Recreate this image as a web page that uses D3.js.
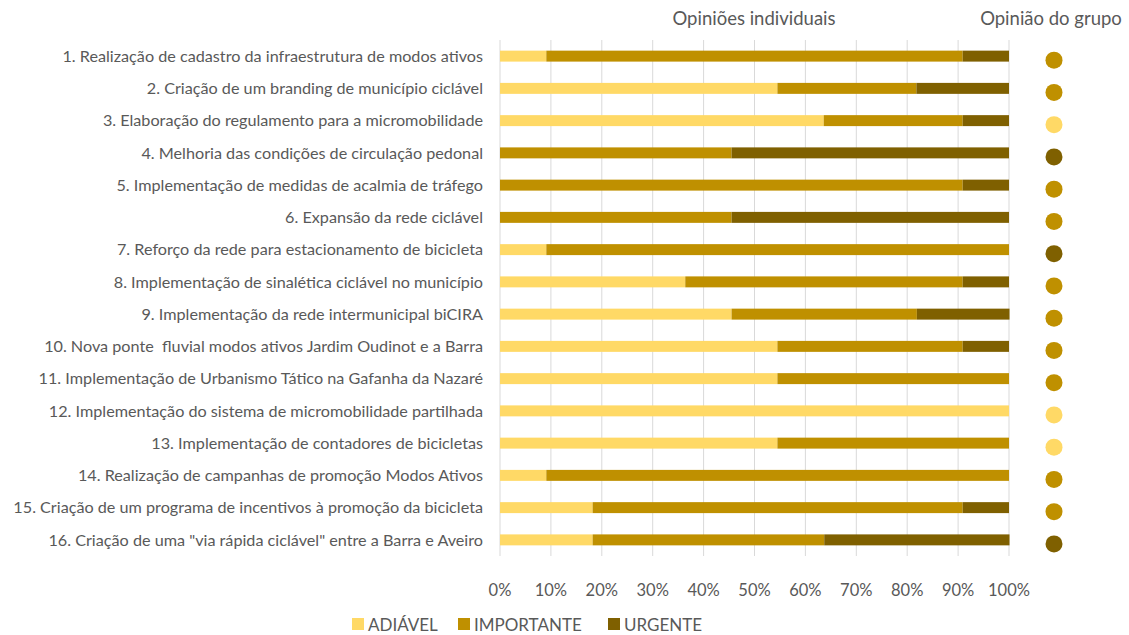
<!DOCTYPE html>
<html>
<head>
<meta charset="utf-8">
<script src="https://cdn.jsdelivr.net/npm/d3@7"></script>
<style>
  body { margin: 0; background: #fff; }
  text { font-family: Lato, "Open Sans", sans-serif; fill: #595959; white-space: pre; }
</style>
</head>
<body>
<svg id="chart" width="1129" height="635"></svg>
<script>
var measures = [
  '1. Realização de cadastro da infraestrutura de modos ativos',
  '2. Criação de um branding de município ciclável',
  '3. Elaboração do regulamento para a micromobilidade',
  '4. Melhoria das condições de circulação pedonal',
  '5. Implementação de medidas de acalmia de tráfego',
  '6. Expansão da rede ciclável',
  '7. Reforço da rede para estacionamento de bicicleta',
  '8. Implementação de sinalética ciclável no município',
  '9. Implementação da rede intermunicipal biCIRA',
  '10. Nova ponte  fluvial modos ativos Jardim Oudinot e a Barra',
  '11. Implementação de Urbanismo Tático na Gafanha da Nazaré',
  '12. Implementação do sistema de micromobilidade partilhada',
  '13. Implementação de contadores de bicicletas',
  '14. Realização de campanhas de promoção Modos Ativos',
  '15. Criação de um programa de incentivos à promoção da bicicleta',
  '16. Criação de uma "via rápida ciclável" entre a Barra e Aveiro'
];

var categories = ['ADIÁVEL', 'IMPORTANTE', 'URGENTE'];

// shares of individual opinions (%)
var adiavel    = [9.1, 54.5, 63.6, 0, 0, 0, 9.1, 36.4, 45.5, 54.5, 54.5, 100, 54.5, 9.1, 18.2, 18.2];
var importante = [81.8, 27.3, 27.3, 45.5, 90.9, 45.5, 90.9, 54.5, 36.4, 36.4, 45.5, 0, 45.5, 90.9, 72.7, 45.5];
var urgente    = [9.1, 18.2, 9.1, 54.5, 9.1, 54.5, 0, 9.1, 18.2, 9.1, 0, 0, 0, 0, 9.1, 36.4];

// group opinion per measure
var grupo = ['IMPORTANTE', 'IMPORTANTE', 'ADIÁVEL', 'URGENTE', 'IMPORTANTE', 'IMPORTANTE', 'URGENTE',
  'IMPORTANTE', 'IMPORTANTE', 'IMPORTANTE', 'IMPORTANTE', 'ADIÁVEL', 'ADIÁVEL', 'IMPORTANTE',
  'IMPORTANTE', 'URGENTE'];

var xTicks = [0, 10, 20, 30, 40, 50, 60, 70, 80, 90, 100];

var colors = {
  'ADIÁVEL': '#FFD966',
  'IMPORTANTE': '#BF9000',
  'URGENTE': '#7F6000'
};

var svg = d3.select('#chart');

var x = d3.scaleLinear().domain([0, 100]).range([500, 1009]);
var y = d3.scaleBand().domain(measures).range([40, 556]).paddingInner(0.66).paddingOuter(0.33);

var rows = measures.map(function (m, i) {
  return { measure: m, 'ADIÁVEL': adiavel[i], 'IMPORTANTE': importante[i], 'URGENTE': urgente[i] };
});
var stacked = d3.stack().keys(categories)(rows);

/**
 * Gridlines
 */
svg.append('g')
  .selectAll('line')
  .data(xTicks)
  .enter()
  .append('line')
  .attr('x1', function (d) { return x(d); })
  .attr('x2', function (d) { return x(d); })
  .attr('y1', 40)
  .attr('y2', 556)
  .attr('stroke', '#d9d9d9')
  .attr('stroke-width', 1);

/**
 * Bars
 */
svg.append('g')
  .selectAll('g.serie')
  .data(stacked)
  .enter()
  .append('g')
  .attr('class', 'serie')
  .attr('fill', function (d) { return colors[d.key]; })
  .selectAll('rect')
  .data(function (d) { return d; })
  .enter()
  .append('rect')
  .attr('x', function (d) { return x(d[0]); })
  .attr('width', function (d) { return x(d[1]) - x(d[0]); })
  .attr('y', function (d) { return y(d.data.measure); })
  .attr('height', y.bandwidth());

/**
 * Category labels
 */
svg.append('g')
  .selectAll('text')
  .data(measures)
  .enter()
  .append('text')
  .attr('x', 483)
  .attr('y', function (d) { return y(d) + y.bandwidth() / 2; })
  .attr('dy', '0.35em')
  .attr('text-anchor', 'end')
  .style('font-size', '16.2px')
  .text(function (d) { return d; });

/**
 * X axis tick labels
 */
svg.append('g')
  .selectAll('text')
  .data(xTicks)
  .enter()
  .append('text')
  .attr('x', function (d) { return x(d); })
  .attr('y', 596)
  .attr('text-anchor', 'middle')
  .style('font-size', '16.5px')
  .text(function (d) { return d + '%'; });

/**
 * Group opinion dots
 */
svg.append('g')
  .selectAll('circle')
  .data(grupo)
  .enter()
  .append('circle')
  .attr('cx', 1054)
  .attr('cy', function (d, i) { return y(measures[i]) + y.bandwidth() / 2 + 4; })
  .attr('r', 8.5)
  .attr('fill', function (d) { return colors[d]; });

/**
 * Titles
 */
svg.append('text')
  .attr('x', 754).attr('y', 25)
  .attr('text-anchor', 'middle')
  .style('font-size', '18.5px')
  .text('Opiniões individuais');

svg.append('text')
  .attr('x', 1051).attr('y', 25)
  .attr('text-anchor', 'middle')
  .style('font-size', '18.5px')
  .text('Opinião do grupo');

/**
 * Legend
 */
var legend = svg.append('g').attr('class', 'legend');
var legendX = [352, 458, 608];
var item = legend.selectAll('g')
  .data(categories)
  .enter()
  .append('g')
  .attr('transform', function (d, i) { return 'translate(' + legendX[i] + ',631)'; });

item.append('rect')
  .attr('x', 0).attr('y', -13)
  .attr('width', 12).attr('height', 12)
  .attr('fill', function (d) { return colors[d]; });

item.append('text')
  .attr('x', 16).attr('y', 0)
  .style('font-size', '17px')
  .text(function (d) { return d; });
</script>
</body>
</html>
